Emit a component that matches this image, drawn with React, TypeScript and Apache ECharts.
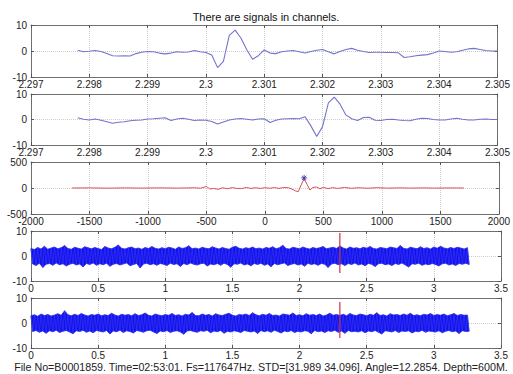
import React, { useEffect, useRef } from 'react';
import * as echarts from 'echarts';

const TITLE = 'There are signals in channels.';
const FOOTER = 'File No=B0001859. Time=02:53:01. Fs=117647Hz. STD=[31.989 34.096]. Angle=12.2854. Depth=600M.';

// zoomed traces (panels 1, 2): sample start and step in seconds
const zoomStart = 2.2978;
const zoomStep = 0.0001;
const ch1Zoom = [
  0.3, -0.3, -0.1, 0.2, -0.2, -1.0, -1.8, -1.9, -1.8, -1.9,
  -1.0, -0.5, -0.2, -0.3, -0.8, -1.1, -0.8, -0.3, -0.5, -0.4,
  0.2, -0.3, -0.6, -1.5, -6.4, -4.0, 6.0, 8.0, 5.0, 0.5,
  -3.2, -1.8, 0.4, -0.8, -1.0, -0.3, 0.0, 0.2, -0.3, -0.8,
  -0.2, 0.3, 0.6, -0.3, -1.1, -0.2, 0.6, 1.0, 0.3, -0.2,
  -0.6, -0.5, -0.5, -0.6, -0.6, -0.7, -2.5, -2.2, -1.8, -1.6,
  -1.4, -0.8, 0.0, -0.2, -0.5, -0.3, 0.3, 0.8, 1.0, 0.6,
  0.2, 0.0, 0.0,
];
const ch2Zoom = [
  0.7, 0.1, -0.2, 0.2, -0.3, -0.9, -1.5, -1.1, -0.9, -0.5,
  -0.3, -0.2, 0.2, 0.3, 0.5, 0.7, -0.4, 0.2, 0.5, 0.1,
  -0.4, -0.2, -0.3, -0.8, -1.8, -1.0, -0.2, 0.2, 0.4, 0.1,
  -0.2, 0.2, 0.3, -1.2, -0.3, 0.2, 0.3, 0.4, 0.3, 1.1,
  -2.5, -6.7, -2.8, 6.5, 8.8, 6.0, 1.8, 0.3, -0.4, 0.8,
  0.9, -0.3, -0.4, 0.0, 0.1, -0.2, -0.4, -0.5, 0.1, 0.5,
  0.4, 0.0, -0.2, -0.2, 0.2, 0.5, 0.1, -0.2, -0.2, 0.1,
  0.2, 0.0, 0.0,
];

// cross-correlation (panel 3)
const xcorrLags = [
  -1650, -1500, -1350, -1200, -1050, -900, -750, -600, -550, -500,
  -470, -440, -400, -360, -320, -280, -240, -200, -160, -120,
  -80, -40, 0, 40, 80, 120, 160, 200, 230, 260,
  285, 310, 335, 360, 385, 410, 440, 470, 500, 540,
  580, 620, 680, 740, 800, 880, 960, 1050, 1150, 1250,
  1350, 1450, 1550, 1700,
];
const xcorrVals = [
  0, 2, -3, 2, -2, 3, -2, 4, -4, 30,
  -20, -10, -25, 5, -15, 8, -8, -12, 10, -8,
  5, -8, 5, -5, 8, -8, 10, 5, -20, -55,
  -70, 60, 180, 70, -40, 10, 20, -15, 12, -12,
  8, -8, 10, -6, 5, -4, 6, -3, 3, -2,
  2, -2, 1, 0,
];
const peakLag = 335;
const peakMark = 195;

// full traces (panels 4, 5): per-bin max / min, bin start and width in seconds
const binStart = 0;
const binStep = 0.025;
const ch1Hi = [
  3.0, 2.6, 3.4, 2.8, 3.9, 2.7, 3.2, 3.6, 2.9, 3.3, 4.2, 3.0, 2.7, 3.5, 3.1, 2.8, 3.7, 3.3, 2.9, 3.4,
  3.0, 2.6, 3.8, 3.2, 2.9, 3.5, 4.4, 3.1, 2.8, 3.3, 3.6, 2.9, 3.2, 2.7, 3.4, 3.0, 3.8, 3.1, 2.8, 3.3,
  2.9, 3.5, 3.2, 2.7, 3.6, 3.0, 3.3, 4.1, 2.9, 3.2, 2.8, 3.5, 3.1, 2.9, 3.7, 3.2, 2.8, 3.4, 3.0, 2.7,
  3.5, 3.9, 3.1, 2.8, 3.3, 3.0, 3.6, 2.9, 3.2, 2.8, 3.4, 3.1, 3.7, 2.9, 3.3, 4.3, 3.0, 2.8, 3.5, 3.2,
  2.9, 3.6, 3.1, 2.8, 3.4, 3.0, 3.3, 3.8, 2.9, 3.2, 3.5, 3.0, 4.0, 3.2, 2.8, 3.6, 3.1, 3.3, 2.9, 3.5,
  3.1, 3.8, 3.0, 2.8, 3.4, 3.2, 2.9, 3.6, 3.3, 3.0, 4.2, 3.1, 2.8, 3.5, 3.2, 2.9, 3.7, 3.0, 3.3, 2.8,
  3.6, 3.1, 3.9, 3.2, 2.9, 3.4, 3.0, 3.5, 3.2, 2.8, 3.3,
];
const ch1Lo = [
  -3.2, -3.8, -2.9, -4.6, -3.3, -3.0, -3.7, -2.8, -3.5, -3.1, -4.0, -3.3, -2.9, -3.6, -3.2, -4.4, -3.0, -3.4, -2.8, -3.7,
  -3.1, -3.5, -2.9, -4.1, -3.3, -3.0, -3.6, -3.2, -2.8, -3.9, -3.4, -3.0, -4.8, -3.2, -2.9, -3.5, -3.1, -3.7, -3.0, -3.3,
  -3.8, -2.9, -3.4, -3.1, -4.2, -3.0, -3.5, -2.8, -3.3, -3.6, -3.1, -2.9, -4.0, -3.2, -3.5, -3.0, -3.7, -2.9, -3.4, -4.5,
  -3.1, -3.3, -2.8, -3.6, -3.2, -3.9, -3.0, -3.4, -2.9, -3.7, -3.2, -4.3, -3.0, -3.5, -3.1, -2.8, -3.8, -3.3, -3.0, -3.6,
  -3.2, -4.1, -2.9, -3.4, -3.1, -3.7, -3.0, -3.3, -4.6, -3.2, -2.9, -3.5, -3.1, -3.8, -3.0, -3.4, -2.8, -3.6, -3.2, -3.9,
  -3.0, -3.3, -4.2, -3.1, -2.9, -3.5, -3.2, -3.8, -3.0, -3.4, -2.8, -3.6, -4.4, -3.1, -3.3, -2.9, -3.7, -3.2, -3.5, -3.0,
  -3.4, -4.0, -3.1, -2.9, -3.6, -3.2, -3.8, -3.0, -3.3, -2.9, -3.4,
];
const ch2Hi = [
  2.9, 3.3, 2.7, 3.6, 3.0, 3.4, 2.8, 3.2, 3.7, 3.1, 4.9, 3.3, 2.9, 3.5, 3.0, 3.8, 3.2, 2.8, 3.4, 3.1,
  3.6, 2.9, 3.3, 3.0, 3.9, 3.2, 2.8, 3.5, 3.1, 3.4, 2.9, 3.7, 3.0, 3.3, 4.0, 3.1, 2.8, 3.6, 3.2, 2.9,
  3.4, 3.1, 3.8, 3.0, 3.3, 2.8, 3.5, 3.2, 4.2, 3.0, 2.9, 3.6, 3.1, 3.4, 2.8, 3.7, 3.2, 3.0, 3.5, 3.9,
  3.1, 2.8, 3.4, 3.2, 3.6, 3.0, 4.1, 3.3, 2.9, 3.5, 3.1, 3.8, 3.0, 3.2, 2.8, 3.6, 3.4, 3.1, 4.0, 3.0,
  3.3, 2.9, 3.7, 3.1, 3.4, 3.0, 3.6, 2.8, 3.2, 3.9, 3.1, 3.4, 3.0, 3.5, 2.9, 3.8, 3.2, 3.0, 3.6, 3.3,
  2.9, 3.5, 3.1, 4.1, 3.0, 3.3, 2.8, 3.7, 3.2, 3.4, 3.0, 3.6, 3.1, 3.9, 3.0, 3.3, 2.9, 3.5, 3.2, 3.8,
  3.0, 3.4, 3.1, 3.6, 2.9, 3.3, 3.8, 3.0, 3.4, 3.1, 3.2,
];
const ch2Lo = [
  -3.4, -3.0, -3.7, -3.2, -4.1, -3.1, -3.5, -2.9, -3.8, -3.3, -3.0, -3.6, -4.3, -3.1, -3.4, -2.9, -3.7, -3.2, -3.9, -3.0,
  -3.3, -3.6, -3.0, -4.4, -3.2, -3.5, -2.9, -3.8, -3.1, -3.4, -4.0, -3.0, -3.3, -3.7, -3.1, -2.9, -3.6, -4.2, -3.2, -3.5,
  -3.0, -3.8, -3.3, -3.1, -3.6, -4.5, -3.2, -3.0, -3.4, -3.7, -3.1, -3.3, -2.9, -3.9, -3.2, -3.5, -3.0, -4.1, -3.3, -3.6,
  -3.1, -3.4, -3.8, -3.0, -3.3, -3.6, -3.2, -4.2, -3.0, -3.5, -3.1, -3.7, -2.9, -3.4, -4.0, -3.2, -3.5, -3.0, -3.8, -3.3,
  -3.6, -3.1, -3.3, -4.3, -3.0, -3.5, -3.2, -3.8, -3.1, -3.4, -2.9, -3.7, -3.2, -4.1, -3.0, -3.5, -3.3, -3.6, -3.1, -3.9,
  -3.2, -3.5, -3.0, -3.7, -4.4, -3.1, -3.3, -3.6, -3.0, -3.8, -3.2, -3.4, -3.1, -4.0, -3.3, -3.5, -2.9, -3.7, -3.2, -3.4,
  -3.6, -3.1, -3.9, -3.3, -3.0, -3.5, -3.2, -4.2, -3.1, -3.4, -3.3,
];
const eventTime = 2.3;
const ch1Event = [9.2, -6.8];
const ch2Event = [8.4, -6.0];

const FONT = 'Liberation Sans, Arial, sans-serif';

const panels = [
  { top: 25, height: 52, xMin: 2.297, xMax: 2.305, xInt: 0.001, yMin: -10, yMax: 10, yInt: 10 },
  { top: 94, height: 51, xMin: 2.297, xMax: 2.305, xInt: 0.001, yMin: -10, yMax: 10, yInt: 10 },
  { top: 162, height: 52, xMin: -2000, xMax: 2000, xInt: 500, yMin: -500, yMax: 500, yInt: 500 },
  { top: 231, height: 50, xMin: 0, xMax: 3.5, xInt: 0.5, yMin: -10, yMax: 10, yInt: 10 },
  { top: 298, height: 50, xMin: 0, xMax: 3.5, xInt: 0.5, yMin: -10, yMax: 10, yInt: 10 },
];

const fmt = (v: number) => String(Number(v.toFixed(4)));

function zoomPairs(vals: number[]) {
  return vals.map((v, i) => [zoomStart + i * zoomStep, v]);
}
// envelope points: upper edge forward, lower edge backward (one closed band)
function envelope(hi: number[], lo: number[]) {
  const n = Math.min(hi.length, lo.length);
  const up: number[][] = [];
  const down: number[][] = [];
  for (let i = 0; i < n; i++) {
    up.push([binStart + i * binStep, hi[i]]);
    down.push([binStart + (i + 0.5) * binStep, lo[i]]);
  }
  return up.concat(down.reverse());
}
function zigzag(hi: number[], lo: number[]) {
  const out: number[][] = [];
  const n = Math.min(hi.length, lo.length);
  for (let i = 0; i < n; i++) {
    out.push([binStart + i * binStep, hi[i]]);
    out.push([binStart + (i + 0.5) * binStep, lo[i]]);
  }
  return out;
}

function bandSeries(idx: number, hi: number[], lo: number[]) {
  const pts = envelope(hi, lo);
  return {
    type: 'custom', xAxisIndex: idx * 2, yAxisIndex: idx * 2, data: [0], silent: true, z: 2,
    renderItem: (_p: any, api: any) => ({
      type: 'polygon',
      shape: { points: pts.map((d) => api.coord(d)) },
      style: { fill: '#1212f0', stroke: '#2a2af0', lineWidth: 0.8 },
    }),
  };
}

function buildOption() {
  const grid: any[] = [];
  const xAxis: any[] = [];
  const yAxis: any[] = [];
  const axisLine = { show: true, onZero: false, lineStyle: { color: '#6f6f6f', width: 1 } };
  const tick = { show: true, inside: true, length: 3, lineStyle: { color: '#555' } };
  const label = {
    fontSize: 10, color: '#222', fontFamily: FONT, showMinLabel: true, showMaxLabel: true,
    formatter: fmt,
  };
  panels.forEach((p, i) => {
    grid.push({ left: 31, width: 470, top: p.top, height: p.height, show: true, backgroundColor: '#fff', borderWidth: 0 });
    const xb = { gridIndex: i, type: 'value', min: p.xMin, max: p.xMax, interval: p.xInt };
    const yb = { gridIndex: i, type: 'value', min: p.yMin, max: p.yMax, interval: p.yInt };
    xAxis.push({
      ...xb, position: 'bottom', axisLine, axisTick: tick,
      axisLabel: { ...label, margin: 2 },
      splitLine: { show: true, lineStyle: { color: '#cdcdcd', type: 'dotted', width: 1 } },
    });
    xAxis.push({
      ...xb, position: 'top', axisLine, axisTick: tick, axisLabel: { show: false }, splitLine: { show: false },
    });
    yAxis.push({
      ...yb, position: 'left', axisLine, axisTick: tick,
      axisLabel: { ...label, margin: 4 },
      splitLine: { show: true, lineStyle: { color: '#cdcdcd', type: 'dotted', width: 1 } },
    });
    yAxis.push({
      ...yb, position: 'right', axisLine, axisTick: tick, axisLabel: { show: false }, splitLine: { show: false },
    });
  });

  const line = (idx: number, data: number[][], color: string, width = 1, z = 2) => ({
    type: 'line', xAxisIndex: idx * 2, yAxisIndex: idx * 2, data, showSymbol: false, symbol: 'none',
    lineStyle: { color, width }, z, silent: true,
  });

  const series: any[] = [
    line(0, zoomPairs(ch1Zoom), '#7474cc', 1.1),
    line(1, zoomPairs(ch2Zoom), '#7474cc', 1.1),
    line(2, xcorrLags.map((l, i) => [l, xcorrVals[i]]), '#d8505c', 1),
    {
      type: 'scatter', xAxisIndex: 4, yAxisIndex: 4, data: [[peakLag, peakMark]],
      symbol: 'path://M5,0 L5,10 M0,5 L10,5 M1.5,1.5 L8.5,8.5 M8.5,1.5 L1.5,8.5',
      symbolSize: 6, itemStyle: { color: 'transparent', borderColor: '#2c2ca8', borderWidth: 1 }, z: 5, silent: true,
    },
    bandSeries(3, ch1Hi, ch1Lo),
    bandSeries(4, ch2Hi, ch2Lo),
    line(3, zigzag(ch1Hi, ch1Lo), '#3a3aee', 0.6, 3),
    line(4, zigzag(ch2Hi, ch2Lo), '#3a3aee', 0.6, 3),
    line(3, [[eventTime, ch1Event[0]], [eventTime, ch1Event[1]]], '#cc3048', 1.2, 5),
    line(4, [[eventTime, ch2Event[0]], [eventTime, ch2Event[1]]], '#cc3048', 1.2, 5),
  ];

  return {
    animation: false,
    backgroundColor: '#fff',
    grid, xAxis, yAxis, series,
    graphic: [
      { type: 'text', x: 266, y: 17, style: { text: TITLE, font: `11px ${FONT}`, fill: '#111', textAlign: 'center', textVerticalAlign: 'middle' } },
      { type: 'text', x: 261, y: 367, style: { text: FOOTER, font: `10.7px ${FONT}`, fill: '#222', textAlign: 'center', textVerticalAlign: 'middle' } },
    ],
  };
}

export default function App() {
  const ref = useRef<HTMLDivElement>(null);
  useEffect(() => {
    const chart = echarts.init(ref.current!, undefined, { renderer: 'svg' });
    chart.setOption(buildOption() as any);
    return () => chart.dispose();
  }, []);
  return (
    <div
      ref={ref}
      style={{ position: 'fixed', left: 0, top: 0, width: 513, height: 374, background: '#fff' }}
    />
  );
}
